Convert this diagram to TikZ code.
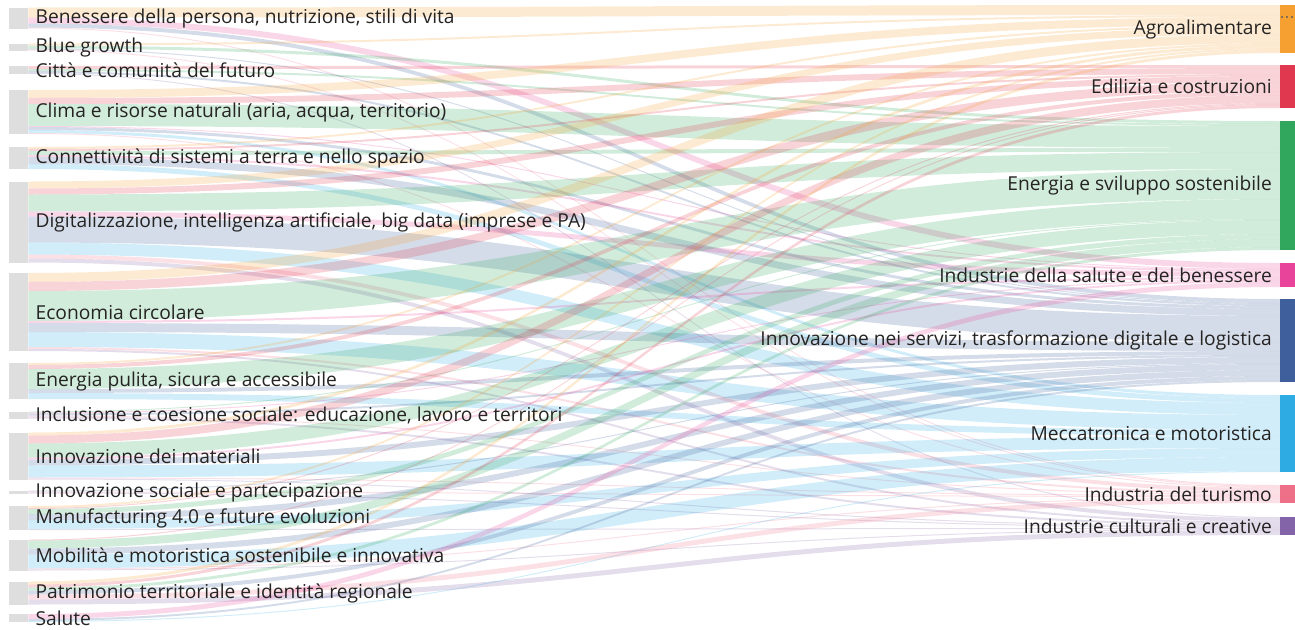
\documentclass[tikz,border=0pt]{standalone}
\usepackage{fontspec}
\setmainfont{Open Sans}
\usetikzlibrary{positioning}

\definecolor{bargray}{HTML}{DEDEDE}
\definecolor{labeltext}{HTML}{252423}
\definecolor{dotgray}{HTML}{605E5C}
\definecolor{c1}{HTML}{F5A031}
\definecolor{c2}{HTML}{E0384F}
\definecolor{c3}{HTML}{30A75C}
\definecolor{c4}{HTML}{E8449A}
\definecolor{c5}{HTML}{3E5F9B}
\definecolor{c6}{HTML}{2EABE2}
\definecolor{c7}{HTML}{EE7088}
\definecolor{c8}{HTML}{8464A8}

\pgfdeclarelayer{flows}
\pgfsetlayers{flows,main}

\begin{document}
\begin{tikzpicture}[x=1pt,y=-1pt,
    bar/.style={inner sep=0pt, anchor=north west},
    srcbar/.style={bar, fill=bargray, minimum width=19pt},
    tgtbar/.style={bar, minimum width=15pt},
    lbl/.style={inner sep=0pt, text=labeltext, font=\fontsize{19.2}{22}\selectfont},
    flow/.style={fill=#1, fill opacity=0.22}]
    \useasboundingbox (0,0) rectangle (1295,629);

    % sources
    \node[srcbar, minimum height=21pt] (L1)  at (9,7.5)   {};
    \node[srcbar, minimum height=7pt]  (L2)  at (9,43.5)  {};
    \node[srcbar, minimum height=8pt]  (L3)  at (9,66)    {};
    \node[srcbar, minimum height=44pt] (L4)  at (9,90)    {};
    \node[srcbar, minimum height=22pt] (L5)  at (9,147)   {};
    \node[srcbar, minimum height=81pt] (L6)  at (9,181.5) {};
    \node[srcbar, minimum height=78pt] (L7)  at (9,273)   {};
    \node[srcbar, minimum height=36pt] (L8)  at (9,363)   {};
    \node[srcbar, minimum height=7pt]  (L9)  at (9,411.5) {};
    \node[srcbar, minimum height=47pt] (L10) at (9,432.5) {};
    \node[srcbar, minimum height=3pt]  (L11) at (9,490.5) {};
    \node[srcbar, minimum height=24pt] (L12) at (9,506)   {};
    \node[srcbar, minimum height=31pt] (L13) at (9,539.5) {};
    \node[srcbar, minimum height=23pt] (L14) at (9,581.5) {};
    \node[srcbar, minimum height=8pt]  (L15) at (9,614)   {};

    \node[lbl, right=7pt of L1]  (L1t)  {Benessere della persona, nutrizione, stili di vita};
    \node[lbl, right=7pt of L2]  (L2t)  {Blue growth};
    \node[lbl, right=7pt of L3]  (L3t)  {Città e comunità del futuro};
    \node[lbl, right=7pt of L4]  (L4t)  {Clima e risorse naturali (aria, acqua, territorio)};
    \node[lbl, right=7pt of L5]  (L5t)  {Connettività di sistemi a terra e nello spazio};
    \node[lbl, right=7pt of L6]  (L6t)  {Digitalizzazione, intelligenza artificiale, big data (imprese e PA)};
    \node[lbl, right=7pt of L7]  (L7t)  {Economia circolare};
    \node[lbl, right=7pt of L8]  (L8t)  {Energia pulita, sicura e accessibile};
    \node[lbl, right=7pt of L9]  (L9t)  {Inclusione e coesione sociale: educazione, lavoro e territori};
    \node[lbl, right=7pt of L10] (L10t) {Innovazione dei materiali};
    \node[lbl, right=7pt of L11] (L11t) {Innovazione sociale e partecipazione};
    \node[lbl, right=7pt of L12] (L12t) {Manufacturing 4.0 e future evoluzioni};
    \node[lbl, right=7pt of L13] (L13t) {Mobilità e motoristica sostenibile e innovativa};
    \node[lbl, right=7pt of L14] (L14t) {Patrimonio territoriale e identità regionale};
    \node[lbl, right=7pt of L15] (L15t) {Salute};

    % targets
    \node[tgtbar, fill=c1, minimum height=48pt]  (R1) at (1280,5)   {};
    \node[tgtbar, fill=c2, minimum height=43pt]  (R2) at (1280,65)  {};
    \node[tgtbar, fill=c3, minimum height=129pt] (R3) at (1280,121) {};
    \node[tgtbar, fill=c4, minimum height=24pt]  (R4) at (1280,263) {};
    \node[tgtbar, fill=c5, minimum height=83pt]  (R5) at (1280,299) {};
    \node[tgtbar, fill=c6, minimum height=77pt]  (R6) at (1280,395) {};
    \node[tgtbar, fill=c7, minimum height=18pt]  (R7) at (1280,485) {};
    \node[tgtbar, fill=c8, minimum height=18pt]  (R8) at (1280,517) {};

    \node[lbl, left=8pt of R1] (R1t) {Agroalimentare};
    \node[lbl, left=8pt of R2] (R2t) {Edilizia e costruzioni};
    \node[lbl, left=8pt of R3] (R3t) {Energia e sviluppo sostenibile};
    \node[lbl, left=8pt of R4] (R4t) {Industrie della salute e del benessere};
    \node[lbl, left=8pt of R5] (R5t) {Innovazione nei servizi, trasformazione digitale e logistica};
    \node[lbl, left=8pt of R6] (R6t) {Meccatronica e motoristica};
    \node[lbl, left=8pt of R7] (R7t) {Industria del turismo};
    \node[lbl, left=8pt of R8] (R8t) {Industrie culturali e creative};

    % more options dots
    \foreach \i in {0,1,2}
        \fill[dotgray] (1282+5*\i,17) circle (1.2pt);

    % flows source -> target
    \foreach \tgt in {1,...,8}
        \expandafter\xdef\csname roff\tgt\endcsname{0};
    \begin{pgfonlayer}{flows}
    \foreach \src/\flows in {
            1/{1/10,4/6,5/4,7/1},
            2/{1/2,3/3,5/1,7/1},
            3/{2/3,3/2,5/2,8/1},
            4/{1/8,2/6,3/22,4/1,5/3,6/3,7/1},
            5/{1/2,2/2,3/4,4/2,5/7,6/5},
            6/{1/7,2/6,3/17,4/5,5/26,6/12,7/4,8/4},
            7/{1/9,2/9,3/30,4/2,5/9,6/15,7/2,8/2},
            8/{1/2,2/4,3/20,5/4,6/6},
            9/{3/1,4/1,5/2,7/1,8/2},
            10/{1/3,2/8,3/14,4/2,5/6,6/12,7/1,8/1},
            11/{5/1,7/1,8/1},
            12/{1/2,2/1,3/5,5/6,6/9,8/1},
            13/{2/1,3/8,5/6,6/14,7/1,8/1},
            14/{1/3,2/3,3/3,5/4,7/5,8/5},
            15/{4/5,5/2,6/1}}{
        \xdef\loff{0}
        \foreach \tgt/\val in \flows {
            \pgfmathsetmacro\roff{\csname roff\tgt\endcsname}
            \pgfmathsetmacro\lend{\loff+\val}
            \pgfmathsetmacro\rend{\roff+\val}
            \fill[flow=c\tgt]
                ([yshift=-\loff pt]L\src.north east)
                .. controls +(620pt,0) and +(-620pt,0) ..
                ([yshift=-\roff pt]R\tgt.north west)
                -- ([yshift=-\rend pt]R\tgt.north west)
                .. controls +(-620pt,0) and +(620pt,0) ..
                ([yshift=-\lend pt]L\src.north east) -- cycle;
            \xdef\loff{\lend}
            \expandafter\xdef\csname roff\tgt\endcsname{\rend}
        }
    }
    \end{pgfonlayer}
\end{tikzpicture}
\end{document}
